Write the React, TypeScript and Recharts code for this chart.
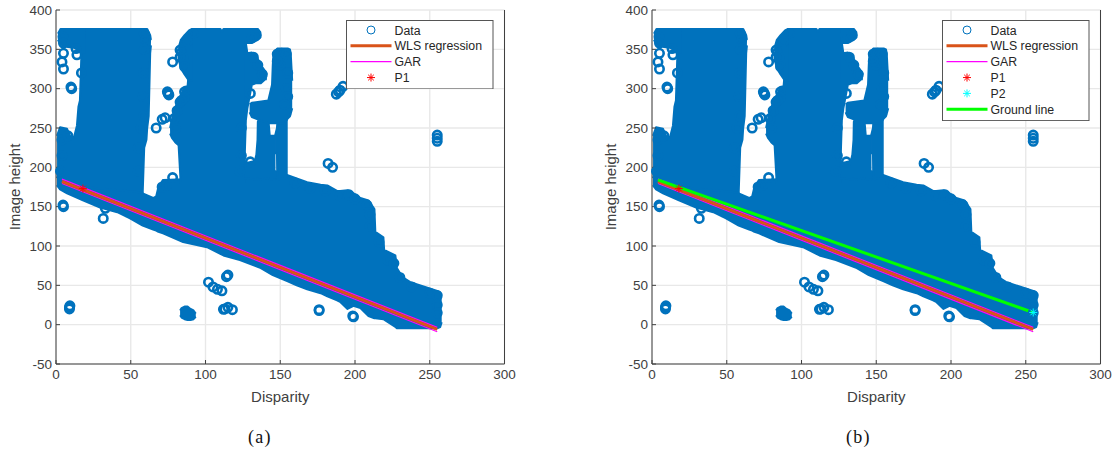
import { ComposedChart, Area, Line, Scatter, XAxis, YAxis, CartesianGrid, Legend } from "recharts";

const xTicks = [0, 50, 100, 150, 200, 250, 300];
const yTicks = [-50, 0, 50, 100, 150, 200, 250, 300, 350, 400];

// solid part of the cloud
const mainX = [0.7, 2.7, 7.4, 18, 29.5, 41, 49.5, 58, 65, 67, 68.5, 71.6, 85, 101, 112, 123, 137, 145, 155, 161, 168, 177, 181.5, 188, 190, 195, 199, 203.6, 209, 213, 213.6, 219, 219.5, 227, 228, 232, 237, 250, 255, 257, 258];
const mainLow = [177, 172, 167, 158, 149, 143, 135, 126, 121, 119.5, 118, 116, 105, 98.5, 88, 82, 72, 63, 55, 50, 45, 40, 36, 31, 29, 20, 24, 21, 11, 8, 8, 7, 6.5, -3, -4.5, -4.5, -4.5, -4.5, -4.5, -3, 3];
const mainHigh = [186, 200, 200, 200, 200, 200, 200, 167, 161, 163, 175, 184, 185, 185, 186, 187, 194, 196, 190, 186, 181, 178, 177, 170, 170, 171, 167, 161, 158, 147, 118, 111, 95, 88, 72, 60, 54, 46, 43, 41, 38];

const towerOneX = [0.7, 2.7, 7.4, 9.4, 12, 14, 15, 16, 17, 18, 19.5, 57.5, 58, 59, 60.5, 61, 62, 63, 63.5];
const towerOneLow = [178, 175, 175, 175, 175, 175, 175, 175, 175, 175, 175, 168, 168, 225, 235, 250, 265, 345, 355];
const towerOneHigh = [240, 251, 249, 240, 238, 253, 277, 285, 345, 350, 376, 376, 376, 376, 376, 376, 372, 368, 362];

const stripX = [1.3, 3, 8, 12, 19.5];
const stripLow = [362, 356, 353, 352, 345];
const stripHigh = [370, 376, 376, 376, 376];

const towerTwoX = [76.3, 77.7, 79.7, 82, 83.4, 85.7, 88, 89, 90, 91, 110, 111, 112, 126.5];
const towerTwoLow = [243, 237, 232, 228, 180, 180, 180, 180, 180, 180, 180, 180, 180, 180];
const towerTwoHigh = [250, 262, 276, 285, 290, 302, 303, 325, 345, 376, 376, 372, 376, 376];

const shoulderX = [82, 83.5, 86, 89, 91];
const shoulderLow = [338, 326, 318, 310, 310];
const shoulderHigh = [352, 362, 368, 374, 376];

const topRightX = [126, 131, 135, 137];
const topRightLow = [358, 358, 362, 366];
const topRightHigh = [376, 376, 376, 371];

const lobeX = [126, 127, 128, 131, 134, 137, 140, 141];
const lobeLow = [200, 260, 275, 305, 307, 307, 312, 312];
const lobeHigh = [358, 358, 345, 346, 342, 330, 322, 318];

const legLeftX = [126, 133, 134, 134.8, 135, 136, 142, 143, 146.8];
const legLeftLow = [186, 185, 184, 186, 185, 184, 186, 185, 184];
const legLeftHigh = [205, 208, 216, 235, 258, 262, 262, 240, 240];

const legRightX = [146.5, 147.8, 148, 155];
const legRightLow = [218, 218, 185, 186];
const legRightHigh = [240, 250, 256, 262];

const towerThreeX = [129.5, 131, 142, 144.5, 145, 145.5, 147, 148, 153, 155, 156.5, 157, 158];
const towerThreeLow = [270, 264, 256, 256, 256, 256, 256, 256, 256, 262, 265, 268, 275];
const towerThreeHigh = [280, 282, 285, 305, 330, 345, 348, 351, 351, 351, 350, 345, 310];

const clumpX = [83, 84, 86, 88, 90, 92, 93.5];
const clumpLow = [12, 9, 7, 6, 6, 7, 10];
const clumpHigh = [18, 21, 23, 23, 20, 18, 14];

// separate rings
const ringX = [4.7, 5, 5, 4, 5, 13.4, 14, 10, 10.5, 17, 31.6, 33, 78, 83, 83, 86, 75, 75.5, 74.5, 67, 71, 73, 78, 86, 84, 130, 130, 190, 187.5, 192, 189, 255, 255, 255, 182, 185, 9, 9, 9.3, 102, 105, 108, 111, 115, 114, 112, 113, 115, 118, 176, 176, 199, 198.5];
const ringY = [152, 150, 345, 334, 325, 351, 343, 302, 300, 320, 135, 148, 334, 349, 340, 328, 294, 292, 296, 250, 261, 263, 187, 289, 285, 294, 207, 298, 293, 303, 296, 237, 241, 233, 205, 200, 22, 20, 24, 54, 48, 45, 43, 63, 61, 19.5, 20, 22, 19, 18, 19, 10, 11];

// rings along the upper rim of the solid part
const rimX = [4.7, 5, 59, 60, 59, 58.5, 58, 58.5, 57, 55, 55, 148, 151, 154, 150, 155, 154, 155, 153, 148, 92, 88, 84, 85, 138, 135, 132, 134, 131, 80, 79, 81, 83, 86, 4, 8, 4, 3, 160, 170, 180, 190, 196, 200, 208, 210, 210, 216, 222, 226, 230, 238, 250, 255, 255, 255, 124, 124, 123, 71, 74];
const rimY = [366, 358, 370, 362, 350, 320, 290, 265, 250, 225, 195, 344, 345, 344, 330, 320, 300, 290, 280, 335, 370, 360, 346, 340, 318, 330, 340, 368, 365, 250, 262, 272, 283, 296, 235, 240, 215, 195, 180, 173, 170, 164, 165, 160, 152, 140, 125, 105, 82, 78, 60, 48, 40, 37, 25, 15, 250, 215, 195, 175, 177];

const fitX = [4, 255];
const wlsY = [182, -6];
const garUpperY = [185, -3.5];
const garLowerY = [179.5, -9];
const groundY = [184, 15.5];
const p1X = [18];
const p1Y = [173];
const p2X = [255];
const p2Y = [15.5];

const BLUE = "#0072BD";
const ORANGE = "#D95319";
const DARK = "#404040";

const band = (x: number[], low: number[], high: number[]) =>
  x.map((v, i) => ({ x: v, range: [low[i], high[i]] }));
const line = (x: number[], y: number[]) => x.map((v, i) => ({ x: v, y: y[i] }));

const bands = [
  band(mainX, mainLow, mainHigh),
  band(towerOneX, towerOneLow, towerOneHigh),
  band(stripX, stripLow, stripHigh),
  band(towerTwoX, towerTwoLow, towerTwoHigh),
  band(shoulderX, shoulderLow, shoulderHigh),
  band(topRightX, topRightLow, topRightHigh),
  band(lobeX, lobeLow, lobeHigh),
  band(legLeftX, legLeftLow, legLeftHigh),
  band(legRightX, legRightLow, legRightHigh),
  band(towerThreeX, towerThreeLow, towerThreeHigh),
  band(clumpX, clumpLow, clumpHigh),
];

function Ring(props: any) {
  return <circle cx={props.cx} cy={props.cy} r={4.2} fill="none" stroke={BLUE} strokeWidth={2.6} />;
}

function Star({ cx, cy, color, r = 4 }: any) {
  const d = r * 0.7;
  return (
    <g stroke={color} strokeWidth={1}>
      <line x1={cx - r} y1={cy} x2={cx + r} y2={cy} />
      <line x1={cx} y1={cy - r} x2={cx} y2={cy + r} />
      <line x1={cx - d} y1={cy - d} x2={cx + d} y2={cy + d} />
      <line x1={cx - d} y1={cy + d} x2={cx + d} y2={cy - d} />
    </g>
  );
}

type Entry = { name: string; kind: string; color: string; width?: number };

const baseEntries: Entry[] = [
  { name: "Data", kind: "ring", color: BLUE },
  { name: "WLS regression", kind: "line", color: ORANGE, width: 3 },
  { name: "GAR", kind: "line", color: "#FF00FF", width: 1.2 },
  { name: "P1", kind: "star", color: "#FF0000" },
];
const extraEntries: Entry[] = [
  { name: "P2", kind: "star", color: "#00FFFF" },
  { name: "Ground line", kind: "line", color: "#00FF00", width: 3 },
];

function LegendBox({ entries }: { entries: Entry[] }) {
  const h = 4 + entries.length * 15.85 + 1;
  return (
    <svg width={148} height={h + 1} style={{ display: "block" }}>
      <rect x={0.5} y={0.5} width={146.5} height={h} fill="#fff" stroke="#555" strokeWidth={1} />
      {entries.map((e, i) => {
        const y = 10 + i * 15.85;
        return (
          <g key={e.name}>
            {e.kind === "line" && <line x1={4.5} x2={45.5} y1={y} y2={y} stroke={e.color} strokeWidth={e.width} />}
            {e.kind === "ring" && <circle cx={25} cy={y} r={4} fill="none" stroke={BLUE} strokeWidth={1} />}
            {e.kind === "star" && <Star cx={25} cy={y} color={e.color} />}
            <text x={48.5} y={y + 4.5} fontSize={12.3} fill="#262626" fontFamily="Liberation Sans">
              {e.name}
            </text>
          </g>
        );
      })}
    </svg>
  );
}

function Panel({ left, legendLeft, entries, ground }: { left: number; legendLeft: number; entries: Entry[]; ground: boolean }) {
  const tick = { fontSize: 13.5, fill: DARK, fontFamily: "Liberation Sans" };
  return (
    <div style={{ position: "absolute", left, top: 0 }}>
      <ComposedChart width={519} height={412} margin={{ top: 10, right: 0, bottom: 0, left: 0 }}>
        <CartesianGrid stroke="#e8e8e8" strokeWidth={1.4} />
        <XAxis
          dataKey="x"
          type="number"
          domain={[0, 300]}
          ticks={xTicks}
          height={48}
          interval={0}
          tickSize={-4}
          tickMargin={9}
          stroke={DARK}
          tick={tick}
          label={{ value: "Disparity", position: "insideBottom", offset: 10, fontSize: 15, fill: DARK, fontFamily: "Liberation Sans" }}
        />
        <XAxis xAxisId="top" orientation="top" type="number" domain={[0, 300]} ticks={xTicks} height={0} interval={0} tickSize={-4} tick={false} stroke={DARK} />
        <YAxis
          type="number"
          domain={[-50, 400]}
          ticks={yTicks}
          width={56}
          interval={0}
          tickSize={-4}
          tickMargin={8}
          stroke={DARK}
          tick={tick}
          label={{ value: "Image height", angle: -90, position: "insideLeft", offset: 15, fontSize: 15, fill: DARK, fontFamily: "Liberation Sans", style: { textAnchor: "middle" } }}
        />
        <YAxis yAxisId="right" orientation="right" type="number" domain={[-50, 400]} ticks={yTicks} width={14.5} interval={0} tickSize={-4} tick={false} stroke={DARK} />
        {bands.map((b, i) => (
          <Area key={i} data={b} dataKey="range" type="linear" fill={BLUE} fillOpacity={1} stroke={BLUE} strokeWidth={2} strokeLinejoin="round" dot={false} activeDot={false} isAnimationActive={false} />
        ))}
        <Scatter data={line(rimX, rimY)} dataKey="y" shape={Ring} isAnimationActive={false} />
        <Scatter data={line(ringX, ringY)} dataKey="y" shape={Ring} isAnimationActive={false} />
        <Line data={line(fitX, garUpperY)} dataKey="y" stroke="#FF00FF" strokeWidth={1.2} dot={false} activeDot={false} isAnimationActive={false} />
        <Line data={line(fitX, garLowerY)} dataKey="y" stroke="#FF00FF" strokeWidth={1.2} dot={false} activeDot={false} isAnimationActive={false} />
        <Line data={line(fitX, wlsY)} dataKey="y" stroke={ORANGE} strokeWidth={3} dot={false} activeDot={false} isAnimationActive={false} />
        {ground && <Line data={line(fitX, groundY)} dataKey="y" stroke="#00FF00" strokeWidth={3} dot={false} activeDot={false} isAnimationActive={false} />}
        <Scatter data={line(p1X, p1Y)} dataKey="y" shape={(p: any) => <Star cx={p.cx} cy={p.cy} color="#FF0000" />} isAnimationActive={false} />
        {ground && <Scatter data={line(p2X, p2Y)} dataKey="y" shape={(p: any) => <Star cx={p.cx} cy={p.cy} color="#00FFFF" />} isAnimationActive={false} />}
        <Legend
          layout="vertical"
          align="center"
          verticalAlign="middle"
          content={() => <LegendBox entries={entries} />}
          wrapperStyle={{ left: legendLeft, top: 20, width: 148, margin: 0 }}
        />
      </ComposedChart>
    </div>
  );
}

export default function App() {
  const caption = { position: "absolute", top: 426, fontFamily: "Liberation Serif", fontSize: 18, letterSpacing: 1.2, color: "#111", lineHeight: "22px" } as const;
  return (
    <div style={{ position: "absolute", left: 0, top: 0, width: 1115, height: 455, overflow: "hidden", background: "#fff" }}>
      <Panel left={0} legendLeft={346} entries={baseEntries} ground={false} />
      <Panel left={596} legendLeft={346} entries={[...baseEntries, ...extraEntries]} ground />
      <div style={{ ...caption, left: 248 }}>(a)</div>
      <div style={{ ...caption, left: 846 }}>(b)</div>
    </div>
  );
}
